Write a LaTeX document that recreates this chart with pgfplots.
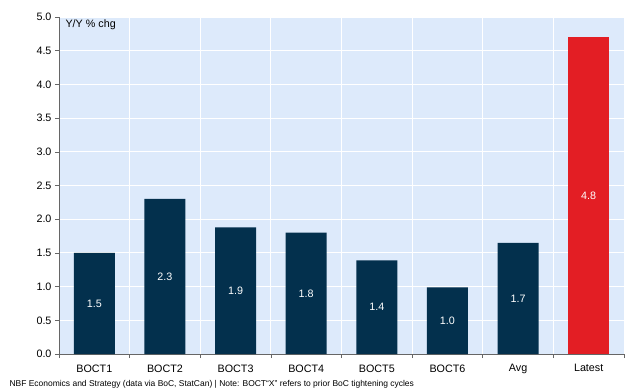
\documentclass[border=0pt]{standalone}
\usepackage{pgfplots}
\pgfplotsset{compat=1.18}
\usepackage{pgfplotstable}
\usepackage{fontspec}
\setmainfont{Liberation Sans}
\definecolor{navy}{HTML}{03304D}
\definecolor{bred}{HTML}{E31E24}
\definecolor{bgblue}{HTML}{DDEAFB}
\pgfplotstableread{
x y lab
0 1.50 1.5
1 2.30 2.3
2 1.88 1.9
3 1.80 1.8
4 1.39 1.4
5 0.99 1.0
6 1.65 1.7
}\hist
\pgfplotstableread{
x y lab
7 4.70 4.8
}\latest
\begin{document}
\begin{tikzpicture}
\path[use as bounding box] (-59bp,-37bp) rectangle (572bp,354bp);
\begin{axis}[
  at={(0,0)}, anchor=south west,
  scale only axis, width=565bp, height=337bp,
  axis background/.style={fill=bgblue},
  font=\fontsize{10.8}{12}\selectfont,
  /pgf/number format/assume math mode=true,
  xmin=-0.5, xmax=7.5, ymin=0, ymax=5,
  axis x line=bottom, axis y line=left,
  axis line style={-, draw=black!60, line width=0.8pt},
  xtick={0,...,7},
  xticklabels={BOCT1,BOCT2,BOCT3,BOCT4,BOCT5,BOCT6,Avg,Latest},
  major x tick style={draw=none},
  minor xtick={-0.5,0.5,...,7.5},
  minor x tick style={draw=black!60, line width=0.6pt},
  minor tick length=4bp,
  xminorgrids, minor x grid style={white, line width=1pt},
  ytick={0,0.5,...,5},
  yticklabel style={/pgf/number format/.cd, fixed, fixed zerofill, precision=1},
  major y tick style={draw=black!60, line width=0.6pt},
  major tick length=4bp,
  tick align=outside,
  ymajorgrids, major y grid style={white, line width=1pt},
  xticklabel style={yshift=-3bp},
  ybar, bar width=41bp, bar shift=0pt,
  point meta=explicit symbolic,
  visualization depends on={y \as \rawy},
  nodes near coords,
  nodes near coords style={anchor=center, text=white, font=\fontsize{10.8}{12}\selectfont,
     shift={(axis direction cs:0,-\rawy/2)}},
  clip=false,
]
\addplot[fill=navy, draw=none] table[x=x, y=y, meta=lab] {\hist};
\addplot[fill=bred, draw=none] table[x=x, y=y, meta=lab] {\latest};
\node[anchor=north west, font=\fontsize{10.8}{12}\selectfont] at (rel axis cs:0,1) [xshift=3bp, yshift=1bp] {Y/Y \% chg};
\end{axis}
\node[anchor=base west, font=\fontsize{8.5}{10}\selectfont] at (-53bp,-32bp) {NBF Economics and Strategy (data via BoC, StatCan) | Note: BOCT“X” refers to prior BoC tightening cycles};
\end{tikzpicture}
\end{document}
